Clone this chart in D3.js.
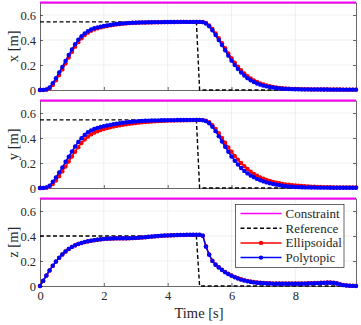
<!DOCTYPE html>
<html>
<head>
  <meta charset='utf-8'>
  <title>Position tracking: x, y, z</title>
  <script src='https://cdn.jsdelivr.net/npm/d3@7'></script>
  <style>
    body { margin: 0; background: #ffffff; }
    svg text { font-family: 'Liberation Serif', 'DejaVu Serif', serif; fill: #262626; }
    .axis path, .axis line { stroke: #262626; }
    .grid line { stroke: #e4e4e4; stroke-width: 0.6; }
  </style>
</head>
<body>
  <svg id='plot-area' width='361' height='325'></svg>
  <script>
    // sample times [s]
    const time = [
      0.0, 0.1, 0.2, 0.3, 0.4, 0.5, 0.6, 0.7, 0.8, 0.9,
      1.0, 1.1, 1.2, 1.3, 1.4, 1.5, 1.6, 1.7, 1.8, 1.9,
      2.0, 2.1, 2.2, 2.3, 2.4, 2.5, 2.6, 2.7, 2.8, 2.9,
      3.0, 3.1, 3.2, 3.3, 3.4, 3.5, 3.6, 3.7, 3.8, 3.9,
      4.0, 4.1, 4.2, 4.3, 4.4, 4.5, 4.6, 4.7, 4.8, 4.9,
      5.0, 5.1, 5.2, 5.3, 5.4, 5.5, 5.6, 5.7, 5.8, 5.9,
      6.0, 6.1, 6.2, 6.3, 6.4, 6.5, 6.6, 6.7, 6.8, 6.9,
      7.0, 7.1, 7.2, 7.3, 7.4, 7.5, 7.6, 7.7, 7.8, 7.9,
      8.0, 8.1, 8.2, 8.3, 8.4, 8.5, 8.6, 8.7, 8.8, 8.9,
      9.0, 9.1, 9.2, 9.3, 9.4, 9.5, 9.6, 9.7, 9.8, 9.9
    ];

    const xEllipsoidal = [
      0, 0, 0.003, 0.013, 0.04, 0.078, 0.12, 0.165, 0.212, 0.26,
      0.305, 0.347, 0.383, 0.414, 0.44, 0.459, 0.474, 0.485, 0.494, 0.501,
      0.507, 0.512, 0.517, 0.521, 0.525, 0.528, 0.531, 0.533, 0.535, 0.537,
      0.538, 0.539, 0.540, 0.540, 0.541, 0.541, 0.542, 0.542, 0.543, 0.543,
      0.543, 0.544, 0.544, 0.544, 0.544, 0.545, 0.545, 0.545, 0.545, 0.545,
      0.545, 0.544, 0.536, 0.517, 0.488, 0.452, 0.414, 0.375, 0.335, 0.293,
      0.254, 0.219, 0.187, 0.158, 0.133, 0.111, 0.093, 0.077, 0.064, 0.053,
      0.044, 0.036, 0.03, 0.025, 0.021, 0.017, 0.014, 0.012, 0.01, 0.009,
      0.008, 0.007, 0.007, 0.006, 0.006, 0.005, 0.005, 0.005, 0.005, 0.004,
      0.004, 0.004, 0.004, 0.004, 0.004, 0.003, 0.003, 0.003, 0.003, 0.003
    ];
    const xPolytopic = [
      0, 0.001, 0.005, 0.02, 0.055, 0.095, 0.14, 0.185, 0.232, 0.28,
      0.325, 0.366, 0.402, 0.43, 0.453, 0.471, 0.484, 0.494, 0.501, 0.507,
      0.512, 0.517, 0.521, 0.525, 0.528, 0.531, 0.533, 0.535, 0.537, 0.538,
      0.539, 0.540, 0.541, 0.541, 0.542, 0.542, 0.543, 0.543, 0.543, 0.544,
      0.544, 0.544, 0.544, 0.545, 0.545, 0.545, 0.545, 0.545, 0.545, 0.545,
      0.545, 0.543, 0.532, 0.51, 0.478, 0.44, 0.4, 0.36, 0.318, 0.275,
      0.235, 0.2, 0.168, 0.14, 0.116, 0.095, 0.078, 0.064, 0.052, 0.043,
      0.035, 0.029, 0.024, 0.02, 0.016, 0.013, 0.011, 0.009, 0.008, 0.007,
      0.006, 0.006, 0.005, 0.005, 0.005, 0.004, 0.004, 0.004, 0.004, 0.004,
      0.004, 0.003, 0.003, 0.003, 0.003, 0.003, 0.003, 0.003, 0.003, 0.003
    ];

    const yEllipsoidal = [
      0, 0, 0.003, 0.012, 0.032, 0.06, 0.095, 0.133, 0.172, 0.212,
      0.252, 0.29, 0.327, 0.36, 0.388, 0.411, 0.429, 0.443, 0.454, 0.464,
      0.472, 0.479, 0.486, 0.492, 0.497, 0.502, 0.506, 0.51, 0.514, 0.517,
      0.52, 0.523, 0.526, 0.528, 0.53, 0.532, 0.534, 0.535, 0.537, 0.538,
      0.539, 0.54, 0.54, 0.541, 0.541, 0.542, 0.542, 0.543, 0.543, 0.544,
      0.544, 0.543, 0.539, 0.526, 0.503, 0.473, 0.438, 0.4, 0.362, 0.325,
      0.29, 0.257, 0.227, 0.2, 0.175, 0.152, 0.131, 0.113, 0.098, 0.085,
      0.074, 0.064, 0.056, 0.049, 0.043, 0.038, 0.033, 0.029, 0.026, 0.023,
      0.02, 0.018, 0.016, 0.014, 0.012, 0.011, 0.01, 0.009, 0.008, 0.007,
      0.006, 0.006, 0.005, 0.005, 0.005, 0.004, 0.004, 0.004, 0.004, 0.004
    ];
    const yPolytopic = [
      0, 0.001, 0.005, 0.018, 0.05, 0.085, 0.125, 0.165, 0.21, 0.25,
      0.292, 0.332, 0.368, 0.398, 0.425, 0.446, 0.461, 0.472, 0.481, 0.488,
      0.494, 0.5, 0.505, 0.51, 0.514, 0.518, 0.522, 0.525, 0.528, 0.531,
      0.533, 0.535, 0.537, 0.538, 0.539, 0.540, 0.541, 0.541, 0.542, 0.542,
      0.543, 0.543, 0.543, 0.544, 0.544, 0.544, 0.545, 0.545, 0.545, 0.545,
      0.545, 0.543, 0.535, 0.518, 0.49, 0.455, 0.415, 0.372, 0.33, 0.29,
      0.252, 0.218, 0.188, 0.16, 0.137, 0.117, 0.1, 0.086, 0.073, 0.062,
      0.053, 0.045, 0.038, 0.032, 0.027, 0.022, 0.018, 0.015, 0.012, 0.01,
      0.008, 0.007, 0.006, 0.005, 0.005, 0.004, 0.004, 0.003, 0.003, 0.003,
      0.003, 0.002, 0.002, 0.002, 0.002, 0.002, 0.002, 0.002, 0.002, 0.002
    ];

    const zEllipsoidal = [
      0, 0.041, 0.083, 0.124, 0.161, 0.195, 0.225, 0.252, 0.276, 0.296,
      0.312, 0.325, 0.336, 0.344, 0.351, 0.357, 0.362, 0.366, 0.37, 0.373,
      0.376, 0.378, 0.379, 0.38, 0.381, 0.381, 0.381, 0.381, 0.382, 0.383,
      0.384, 0.386, 0.388, 0.39, 0.393, 0.395, 0.397, 0.399, 0.401, 0.403,
      0.404, 0.405, 0.406, 0.407, 0.408, 0.408, 0.409, 0.409, 0.409, 0.409,
      0.409, 0.403, 0.318, 0.253, 0.203, 0.173, 0.151, 0.131, 0.113, 0.098,
      0.085, 0.073, 0.063, 0.054, 0.047, 0.041, 0.036, 0.032, 0.029, 0.027,
      0.025, 0.023, 0.022, 0.021, 0.02, 0.02, 0.02, 0.02, 0.02, 0.02,
      0.02, 0.02, 0.02, 0.021, 0.022, 0.023, 0.024, 0.025, 0.026, 0.027,
      0.028, 0.028, 0.027, 0.022, 0.015, 0.009, 0.005, 0.003, 0.002, 0.001
    ];
    const zPolytopic = [
      0, 0.042, 0.084, 0.125, 0.162, 0.196, 0.226, 0.253, 0.277, 0.297,
      0.313, 0.326, 0.337, 0.345, 0.352, 0.358, 0.363, 0.367, 0.371, 0.374,
      0.377, 0.379, 0.38, 0.381, 0.382, 0.382, 0.382, 0.382, 0.383, 0.384,
      0.385, 0.387, 0.389, 0.391, 0.394, 0.396, 0.398, 0.4, 0.402, 0.404,
      0.405, 0.406, 0.407, 0.408, 0.409, 0.409, 0.41, 0.41, 0.41, 0.41,
      0.41, 0.402, 0.315, 0.25, 0.2, 0.17, 0.148, 0.128, 0.11, 0.095,
      0.082, 0.07, 0.06, 0.051, 0.044, 0.038, 0.033, 0.029, 0.026, 0.024,
      0.022, 0.021, 0.02, 0.019, 0.018, 0.018, 0.018, 0.018, 0.018, 0.018,
      0.018, 0.018, 0.018, 0.019, 0.02, 0.021, 0.022, 0.023, 0.024, 0.025,
      0.026, 0.026, 0.025, 0.02, 0.013, 0.007, 0.004, 0.002, 0.001, 0
    ];

    // step reference and the position constraint
    const referenceTime = [0, 4.9, 5.0, 9.9];
    const referenceX = [0.545, 0.545, 0, 0];
    const referenceY = [0.545, 0.545, 0, 0];
    const referenceZ = [0.40, 0.40, 0, 0];
    const constraintTime = [0, 9.9];
    const constraintValue = [0.7, 0.7];

    const axisLabels = ['x [m]', 'y [m]', 'z [m]'];
    const xTicks = [0, 2, 4, 6, 8];
    const yTicks = [0, 0.2, 0.4, 0.6];
    const legendLabels = ['Constraint', 'Reference', 'Ellipsoidal', 'Polytopic'];

    const COLORS = {
        constraint: '#ff00ff',
        reference: '#000000',
        ellipsoidal: '#ff0000',
        polytopic: '#0000ff'
    };

    const svg = d3.select('#plot-area');
    const left = 40;
    const right = 356;
    const panelHeight = 87.5;
    const panelTops = [2.5, 100.5, 198.5];

    const x = d3.scaleLinear()
        .domain([0, 9.9])
        .range([left, right]);

    const panels = [
        { label: axisLabels[0], ref: referenceX, ell: xEllipsoidal, poly: xPolytopic },
        { label: axisLabels[1], ref: referenceY, ell: yEllipsoidal, poly: yPolytopic },
        { label: axisLabels[2], ref: referenceZ, ell: zEllipsoidal, poly: zPolytopic }
    ];

    function zip(ts, vs) {
        return ts.map((t, i) => ({ time: t, value: vs[i] }));
    }

    panels.forEach((p, k) => {
        const top = panelTops[k];
        const bottom = top + panelHeight;
        const y = d3.scaleLinear()
            .domain([0, 0.7])
            .range([bottom, top]);
        const g = svg.append('g');

        // grid
        const grid = g.append('g').attr('class', 'grid');
        grid.selectAll('.gx')
            .data(xTicks.slice(1))
            .join('line')
                .attr('x1', d => x(d)).attr('x2', d => x(d))
                .attr('y1', top).attr('y2', bottom);
        grid.selectAll('.gy')
            .data(yTicks.slice(1))
            .join('line')
                .attr('x1', left).attr('x2', right)
                .attr('y1', d => y(d)).attr('y2', d => y(d));

        // axes, ticks point inward
        const isLast = k === panels.length - 1;
        const axisOpts = a => a.tickSizeInner(-3).tickSizeOuter(0);
        g.append('g')
            .attr('class', 'axis')
            .attr('transform', `translate(0, ${bottom})`)
            .call(axisOpts(d3.axisBottom(x))
                .tickValues(xTicks)
                .tickPadding(5.5)
                .tickFormat(isLast ? d3.format('d') : () => ''));
        g.append('g')
            .attr('class', 'axis')
            .attr('transform', `translate(0, ${top})`)
            .call(axisOpts(d3.axisTop(x)).tickValues([]));
        g.append('g')
            .attr('class', 'axis')
            .attr('transform', `translate(${left}, 0)`)
            .call(axisOpts(d3.axisLeft(y))
                .tickValues(yTicks)
                .tickPadding(4)
                .tickFormat(d => d === 0 ? '0' : d.toFixed(1)));
        g.append('g')
            .attr('class', 'axis')
            .attr('transform', `translate(${right}, 0)`)
            .call(axisOpts(d3.axisRight(y))
                .tickValues(yTicks)
                .tickFormat(() => ''));
        g.selectAll('.axis text').attr('font-size', 12.5);
        g.selectAll('.axis path, .axis line').attr('stroke-width', 0.7);

        const line = d3.line()
            .x(d => x(d.time))
            .y(d => y(d.value));

        // constraint
        g.append('path')
            .datum(zip(constraintTime, constraintValue))
            .attr('fill', 'none')
            .attr('stroke', COLORS.constraint)
            .attr('stroke-width', 1.8)
            .attr('d', line);

        // reference
        g.append('path')
            .datum(zip(referenceTime, p.ref))
            .attr('fill', 'none')
            .attr('stroke', COLORS.reference)
            .attr('stroke-width', 1.4)
            .attr('stroke-dasharray', '4,2.5')
            .attr('d', line);

        // trajectories with markers
        [[p.ell, COLORS.ellipsoidal], [p.poly, COLORS.polytopic]].forEach(([vals, color]) => {
            const data = zip(time, vals);
            g.append('path')
                .datum(data)
                .attr('fill', 'none')
                .attr('stroke', color)
                .attr('stroke-width', 1.5)
                .attr('stroke-linejoin', 'round')
                .attr('d', line);
            g.append('g')
                .selectAll('circle')
                .data(data)
                .join('circle')
                    .attr('cx', d => x(d.time))
                    .attr('cy', d => y(d.value))
                    .attr('r', 2.2)
                    .attr('fill', color);
        });

        // y label
        g.append('text')
            .attr('transform', `translate(13, ${top + panelHeight / 2}) rotate(-90)`)
            .attr('text-anchor', 'middle')
            .attr('dy', '0.35em')
            .attr('font-size', 14.5)
            .text(p.label);
    });

    // x label
    svg.append('text')
        .attr('x', 199)
        .attr('y', 318)
        .attr('text-anchor', 'middle')
        .attr('font-size', 14.5)
        .text('Time [s]');

    // legend
    const legend = svg.append('g');
    legend.append('rect')
        .attr('x', 235.5).attr('y', 204.5)
        .attr('width', 108.5).attr('height', 63)
        .attr('fill', '#ffffff')
        .attr('stroke', '#262626')
        .attr('stroke-width', 0.7);
    const legendStyles = [
        { color: COLORS.constraint, dash: null, marker: false },
        { color: COLORS.reference, dash: '4,2.5', marker: false },
        { color: COLORS.ellipsoidal, dash: null, marker: true },
        { color: COLORS.polytopic, dash: null, marker: true }
    ];
    legendLabels.forEach((label, i) => {
        const ly = 213.5 + i * 14.7;
        const s = legendStyles[i];
        legend.append('line')
            .attr('x1', 240.5).attr('x2', 281.5)
            .attr('y1', ly).attr('y2', ly)
            .attr('stroke', s.color)
            .attr('stroke-width', 1.5)
            .attr('stroke-dasharray', s.dash);
        if (s.marker) {
            legend.append('circle')
                .attr('cx', 261).attr('cy', ly)
                .attr('r', 2.2)
                .attr('fill', s.color);
        }
        legend.append('text')
            .attr('x', 285.5).attr('y', ly)
            .attr('dy', '0.35em')
            .attr('font-size', 13)
            .text(label);
    });
  </script>
</body>
</html>
